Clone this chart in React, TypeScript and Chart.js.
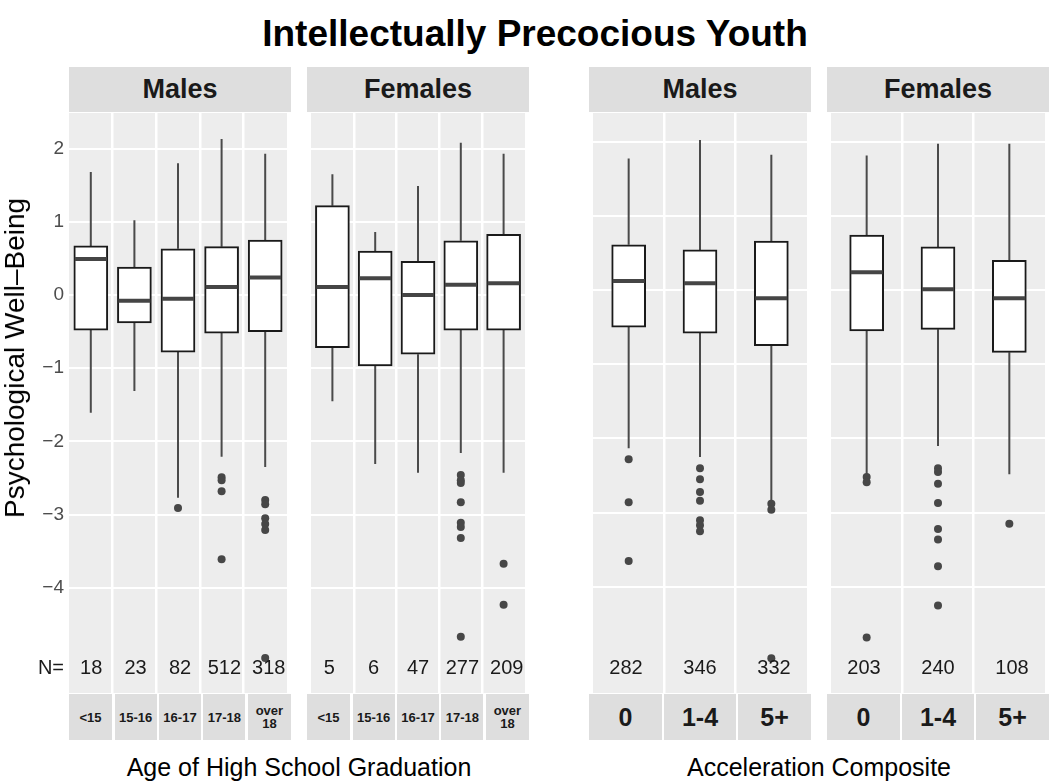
import React, { useEffect, useRef } from "react";
import { Chart, registerables } from "chart.js";

Chart.register(...registerables);

const FONT = '"Liberation Sans", Arial, Helvetica, sans-serif';

// ---------- text ----------
const TITLE = "Intellectually Precocious Youth";
const Y_TITLE = "Psychological Well\u2013Being";
const AGE_TITLE = "Age of High School Graduation";
const ACC_TITLE = "Acceleration Composite";
const SEX_LABELS = ["Males", "Females", "Males", "Females"];
const N_PREFIX = "N=";

// ---------- categories & ticks ----------
const AGE_CATS = ["<15", "15-16", "16-17", "17-18", "over 18"];
const AGE_STRIP_LABELS = ["<15", "15-16", "16-17", "17-18", "over\n18"];
const ACC_CATS = ["0", "1-4", "5+"];
const Y_TICKS = [-4, -3, -2, -1, 0, 1, 2];

// ---------- Males, age of high school graduation ----------
const M_AGE_LOW = [-1.61, -1.31, -2.77, -2.21, -2.35];
const M_AGE_Q1 = [-0.48, -0.38, -0.78, -0.52, -0.5];
const M_AGE_MED = [0.49, -0.08, -0.05, 0.11, 0.24];
const M_AGE_Q3 = [0.67, 0.38, 0.63, 0.66, 0.75];
const M_AGE_HIGH = [1.68, 1.02, 1.8, 2.13, 1.93];
const M_AGE_OUT = [[], [], [-2.91], [-2.49, -2.53, -2.68, -3.61], [-2.8, -2.86, -3.05, -3.13, -3.21, -4.96]];
const M_AGE_N = [18, 23, 82, 512, 318];

// ---------- Females, age of high school graduation ----------
const F_AGE_LOW = [-1.45, -2.31, -2.43, -2.16, -2.43];
const F_AGE_Q1 = [-0.72, -0.97, -0.81, -0.48, -0.48];
const F_AGE_MED = [0.11, 0.23, 0.0, 0.14, 0.16];
const F_AGE_Q3 = [1.22, 0.6, 0.46, 0.74, 0.83];
const F_AGE_HIGH = [1.65, 0.86, 1.49, 2.08, 1.93];
const F_AGE_OUT = [[], [], [], [-2.46, -2.53, -2.57, -2.83, -3.11, -3.17, -3.32, -4.67], [-3.67, -4.23]];
const F_AGE_N = [5, 6, 47, 277, 209];

// ---------- Males, acceleration composite ----------
const M_ACC_LOW = [-2.13, -2.25, -2.83];
const M_ACC_Q1 = [-0.5, -0.58, -0.75];
const M_ACC_MED = [0.12, 0.09, -0.11];
const M_ACC_Q3 = [0.61, 0.54, 0.66];
const M_ACC_HIGH = [1.77, 2.02, 1.82];
const M_ACC_OUT = [[-2.28, -2.86, -3.65], [-2.4, -2.55, -2.72, -2.84, -3.1, -3.17, -3.25], [-2.88, -2.96, -4.96]];
const M_ACC_N = [282, 346, 332];

// ---------- Females, acceleration composite ----------
const F_ACC_LOW = [-2.49, -2.1, -2.48];
const F_ACC_Q1 = [-0.55, -0.53, -0.84];
const F_ACC_MED = [0.24, 0.01, -0.11];
const F_ACC_Q3 = [0.74, 0.58, 0.4];
const F_ACC_HIGH = [1.81, 1.97, 1.97];
const F_ACC_OUT = [[-2.52, -2.59, -4.68], [-2.4, -2.45, -2.61, -2.87, -3.22, -3.36, -3.72, -4.25], [-3.15]];
const F_ACC_N = [203, 240, 108];

// ---------- layout ----------
const PANEL_LEFTS = [69, 307, 589, 827];
const PANEL_W = 222;
const PANEL_TOP = 113;
const PANEL_BOTTOM = 693;
const PAD = 20;
const AXIS_W = 60;
const LEFT_RANGE = [-5.437, 2.486];
const RIGHT_RANGE = [-5.428, 2.384];

const PANEL_BG = "#ededed";
const STRIP_BG = "#dedede";

type Spec = {
  cats: string[];
  strip: string[];
  low: number[];
  q1: number[];
  med: number[];
  q3: number[];
  high: number[];
  out: number[][];
  n: number[];
  range: number[];
  left: number;
  axis: boolean;
  stripSize: number;
};

const SPECS: Spec[] = [
  { cats: AGE_CATS, strip: AGE_STRIP_LABELS, low: M_AGE_LOW, q1: M_AGE_Q1, med: M_AGE_MED, q3: M_AGE_Q3, high: M_AGE_HIGH, out: M_AGE_OUT, n: M_AGE_N, range: LEFT_RANGE, left: PANEL_LEFTS[0], axis: true, stripSize: 13 },
  { cats: AGE_CATS, strip: AGE_STRIP_LABELS, low: F_AGE_LOW, q1: F_AGE_Q1, med: F_AGE_MED, q3: F_AGE_Q3, high: F_AGE_HIGH, out: F_AGE_OUT, n: F_AGE_N, range: LEFT_RANGE, left: PANEL_LEFTS[1], axis: false, stripSize: 13 },
  { cats: ACC_CATS, strip: ACC_CATS, low: M_ACC_LOW, q1: M_ACC_Q1, med: M_ACC_MED, q3: M_ACC_Q3, high: M_ACC_HIGH, out: M_ACC_OUT, n: M_ACC_N, range: RIGHT_RANGE, left: PANEL_LEFTS[2], axis: false, stripSize: 25 },
  { cats: ACC_CATS, strip: ACC_CATS, low: F_ACC_LOW, q1: F_ACC_Q1, med: F_ACC_MED, q3: F_ACC_Q3, high: F_ACC_HIGH, out: F_ACC_OUT, n: F_ACC_N, range: RIGHT_RANGE, left: PANEL_LEFTS[3], axis: false, stripSize: 25 },
];

const fmtTick = (v: number) => (v < 0 ? "\u2212" + Math.abs(v) : String(v));

function makePlugin(p: Spec, idx: number) {
  return {
    id: "boxplot" + idx,
    beforeDraw(chart: any) {
      const { ctx, chartArea: a } = chart;
      ctx.save();
      ctx.fillStyle = PANEL_BG;
      ctx.fillRect(a.left, a.top, a.right - a.left, a.bottom - a.top);
      ctx.restore();
    },
    beforeDatasetsDraw(chart: any) {
      const { ctx } = chart;
      const xs = chart.scales.x;
      const ys = chart.scales.y;
      ctx.save();
      ctx.strokeStyle = "#4a4a4a";
      ctx.lineWidth = 2;
      ctx.beginPath();
      p.cats.forEach((_, i) => {
        const x = xs.getPixelForValue(i);
        ctx.moveTo(x, ys.getPixelForValue(p.high[i]));
        ctx.lineTo(x, ys.getPixelForValue(p.q3[i]));
        ctx.moveTo(x, ys.getPixelForValue(p.q1[i]));
        ctx.lineTo(x, ys.getPixelForValue(p.low[i]));
      });
      ctx.stroke();
      ctx.restore();
    },
    afterDatasetsDraw(chart: any) {
      const { ctx } = chart;
      const ys = chart.scales.y;
      const meta = chart.getDatasetMeta(0);
      ctx.save();
      ctx.strokeStyle = "#454545";
      ctx.lineWidth = 4;
      ctx.beginPath();
      meta.data.forEach((el: any, i: number) => {
        const y = ys.getPixelForValue(p.med[i]);
        ctx.moveTo(el.x - el.width / 2 + 1, y);
        ctx.lineTo(el.x + el.width / 2 - 1, y);
      });
      ctx.stroke();
      ctx.restore();
    },
  };
}

function Panel({ p, idx }: { p: Spec; idx: number }) {
  const ref = useRef<HTMLCanvasElement | null>(null);
  const w = PANEL_W + (p.axis ? AXIS_W : 0);
  const h = PANEL_BOTTOM - PANEL_TOP + 2 * PAD;
  useEffect(() => {
    if (!ref.current) return;
    const n = p.cats.length;
    const outliers: { x: string; y: number }[] = [];
    p.out.forEach((vals, i) => vals.forEach((v) => outliers.push({ x: p.cats[i], y: v })));
    const chart = new Chart(ref.current, {
      type: "bar",
      data: {
        labels: p.cats,
        datasets: [
          {
            type: "bar",
            data: p.cats.map((_, i) => [p.q1[i], p.q3[i]]) as any,
            backgroundColor: "#ffffff",
            borderColor: "#1a1a1a",
            borderWidth: 2,
            borderSkipped: false,
            barThickness: 34,
          } as any,
          {
            type: "scatter",
            data: outliers as any,
            pointRadius: 4,
            pointHoverRadius: 4,
            pointBackgroundColor: "#474747",
            pointBorderWidth: 0,
            borderWidth: 0,
          } as any,
        ],
      },
      options: {
        animation: false,
        responsive: false,
        events: [],
        layout: { padding: { top: PAD, bottom: PAD, left: 0, right: 0 } },
        plugins: { legend: { display: false }, tooltip: { enabled: false } },
        scales: {
          x: {
            type: "category",
            offset: true,
            grid: {
              offset: true,
              drawTicks: false,
              lineWidth: 2.5,
              color: (c: any) => (typeof c.index === "number" && c.index > 0 && c.index < n ? "#ffffff" : "rgba(0,0,0,0)"),
            },
            ticks: { display: false },
            border: { display: false },
          },
          y: {
            type: "linear",
            min: p.range[0],
            max: p.range[1],
            afterBuildTicks: (s: any) => {
              s.ticks = Y_TICKS.map((v) => ({ value: v }));
            },
            afterFit: p.axis
              ? (s: any) => {
                  s.width = AXIS_W;
                }
              : undefined,
            grid: { color: "#ffffff", lineWidth: 2, drawTicks: false },
            border: { display: false },
            ticks: p.axis
              ? {
                  display: true,
                  padding: 5,
                  color: "#4d4d4d",
                  font: { family: FONT, size: 19 },
                  callback: (v: any) => fmtTick(Number(v)),
                }
              : { display: false },
          },
        } as any,
      },
      plugins: [makePlugin(p, idx)],
    });
    return () => chart.destroy();
  }, []);
  return (
    <canvas
      ref={ref}
      width={w}
      height={h}
      style={{ position: "absolute", left: p.left - (p.axis ? AXIS_W : 0), top: PANEL_TOP - PAD, width: w, height: h }}
    />
  );
}

function Txt({ x, y, text, size, bold, color, rotate, right }: any) {
  return (
    <div
      style={{
        position: "absolute",
        left: x,
        top: y,
        transform: `translate(${right ? "-100%" : "-50%"},-50%)${rotate ? " rotate(-90deg)" : ""}`,
        fontFamily: FONT,
        fontSize: size,
        fontWeight: bold ? 700 : 400,
        color: color || "#000",
        lineHeight: 1,
        whiteSpace: "pre",
        textAlign: "center",
      }}
    >
      {text}
    </div>
  );
}

export default function App() {
  const nY = 667;
  return (
    <div style={{ position: "absolute", left: 0, top: 0, width: 1050, height: 782, background: "#fff", overflow: "hidden" }}>
      <Txt x={535} y={33} text={TITLE} size={37} bold color="#000" />
      {SPECS.map((p, k) => (
        <div
          key={"strip" + k}
          style={{
            position: "absolute",
            left: p.left,
            top: 67,
            width: PANEL_W,
            height: 45,
            background: STRIP_BG,
            display: "flex",
            alignItems: "center",
            justifyContent: "center",
            fontFamily: FONT,
            fontWeight: 700,
            fontSize: 27,
            color: "#1a1a1a",
            lineHeight: 1,
          }}
        >
          {SEX_LABELS[k]}
        </div>
      ))}
      {SPECS.map((p, k) => {
        const bin = PANEL_W / p.cats.length;
        return p.strip.map((s, i) => {
          const l = p.left + i * bin + (i > 0 ? 1.25 : 0);
          const r = p.left + (i + 1) * bin - (i < p.cats.length - 1 ? 1.25 : 0);
          return (
            <div
              key={"bs" + k + "-" + i}
              style={{
                position: "absolute",
                left: l,
                top: 694,
                width: r - l,
                height: 46,
                background: STRIP_BG,
                display: "flex",
                alignItems: "center",
                justifyContent: "center",
                fontFamily: FONT,
                fontWeight: 700,
                fontSize: p.stripSize,
                color: "#1a1a1a",
                lineHeight: 1,
                whiteSpace: "pre",
                textAlign: "center",
              }}
            >
              {s}
            </div>
          );
        });
      })}
      {SPECS.map((p, k) => (
        <Panel key={"panel" + k} p={p} idx={k} />
      ))}
      <Txt x={64} y={nY} text={N_PREFIX} size={20} color="#1a1a1a" right />
      {SPECS.map((p, k) => {
        const bin = PANEL_W / p.cats.length;
        return p.n.map((v, i) => (
          <Txt key={"n" + k + "-" + i} x={p.left + (i + 0.5) * bin} y={nY} text={String(v)} size={20} color="#1a1a1a" />
        ));
      })}
      <Txt x={15} y={358} text={Y_TITLE} size={28} color="#000" rotate />
      <Txt x={299} y={767} text={AGE_TITLE} size={25} color="#000" />
      <Txt x={819} y={767} text={ACC_TITLE} size={25} color="#000" />
    </div>
  );
}
